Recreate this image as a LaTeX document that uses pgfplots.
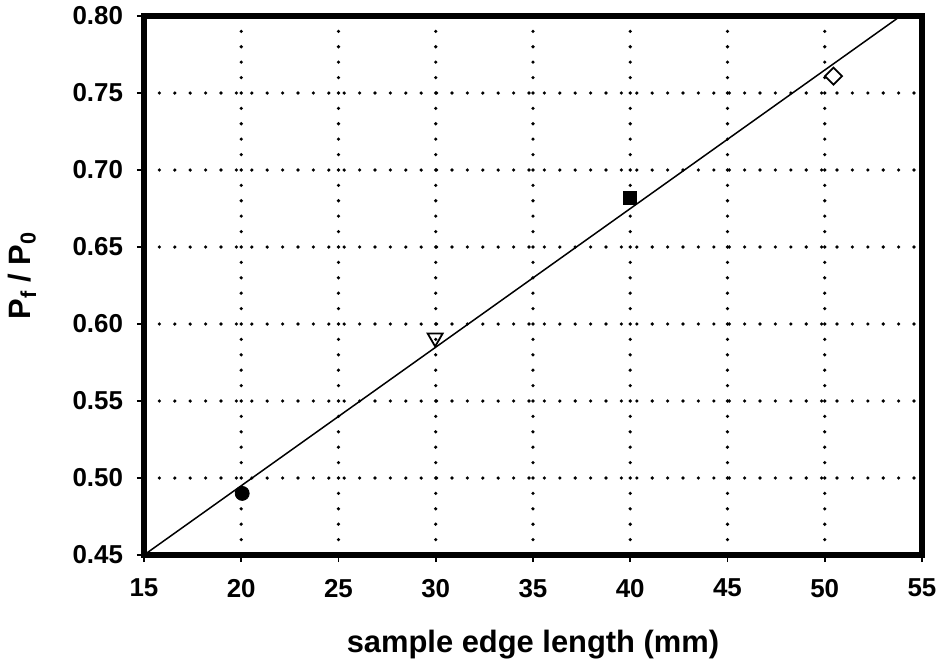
\documentclass[border=0pt]{standalone}
\usepackage{pgfplots}
\pgfplotsset{compat=1.18}
\usepackage{fontspec}
\setmainfont{Liberation Sans}
\begin{document}
\begin{tikzpicture}
\useasboundingbox (-72bp,-53.5bp) rectangle (399bp,277.5bp);
\begin{axis}[
  at={(0,0)}, anchor=south west,
  scale only axis, width=389bp, height=269.5bp,
  xmin=15, xmax=55, ymin=0.45, ymax=0.80,
  xtick={15,20,...,55}, ytick={0.45,0.50,...,0.80},
  /pgf/number format/assume math mode=true,
  yticklabel style={xshift=-3.5bp, /pgf/number format/fixed, /pgf/number format/fixed zerofill, /pgf/number format/precision=2},
  tick label style={font=\fontsize{13}{15}\selectfont\bfseries},
  xticklabel style={yshift=-5bp},
  label style={font=\fontsize{15.5}{18}\selectfont\bfseries},
  axis line style={line width=2.8bp},
  tick style={black, line width=0.8bp},
  tick align=outside, major tick length=3.5bp,
  xtick pos=left, ytick pos=left,
  grid=major,
  major grid style={black, line width=1.8bp, line cap=round, dash pattern=on 0bp off 7.7bp},
  xlabel={sample edge length (mm)},
  ylabel={P\textsubscript{f} / P\textsubscript{0}},
  xlabel style={at={(axis description cs:0.5,0)}, anchor=base, yshift=-48.5bp},
  ylabel style={at={(axis description cs:0,0.5)}, anchor=center, xshift=5bp, yshift=61bp},
  clip=true,
]
\addplot[black, line width=0.75bp] coordinates {(15,0.45) (53.9,0.80)};
\addplot[only marks, mark=*, mark size=3.5bp, black] coordinates {(20.05,0.490)};
\addplot[only marks, mark=triangle, mark options={rotate=180, fill=white, line width=0.9bp}, mark size=4.3bp, black] coordinates {(29.97,0.591)};
\addplot[only marks, mark=square*, mark size=3.2bp, black] coordinates {(40,0.682)};
\addplot[only marks, mark=square, mark options={rotate=45, fill=white, line width=0.9bp}, mark size=3bp, black] coordinates {(50.45,0.761)};
\end{axis}
\end{tikzpicture}
\end{document}
